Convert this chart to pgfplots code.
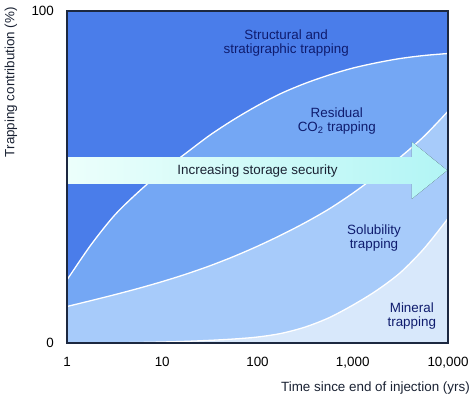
\documentclass[border=0pt]{standalone}
\usepackage{pgfplots}
\pgfplotsset{compat=1.18}
\usepackage{pgfplotstable}
\usepackage{fontspec}
\setmainfont{Liberation Sans}
\definecolor{cStruct}{HTML}{4A7DEA}
\definecolor{cResid}{HTML}{74A7F4}
\definecolor{cSolub}{HTML}{A7CBFA}
\definecolor{cMiner}{HTML}{D8E8FB}
\definecolor{cAxis}{HTML}{1C2840}
\definecolor{cNavy}{HTML}{0F1C6E}
\definecolor{cArrowL}{HTML}{ECFFFB}
\definecolor{cArrowR}{HTML}{B2F5F5}
\definecolor{cArrowText}{HTML}{1A2233}

% boundary structural / residual
\pgfplotstableread{
x y
1 19
1.778 29.5
3.162 38.5
5.623 45.5
10 51.7
17.78 57.2
31.62 62.6
56.23 67.3
100 71.5
177.8 75.2
316.2 78.2
562.3 80.7
1000 82.8
1778 84.4
3162 85.7
5623 86.6
10000 87.2
}\curveA
% boundary residual / solubility
\pgfplotstableread{
x y
1 11
1.778 12.75
3.162 14.55
5.623 16.45
10 18.5
17.78 20.75
31.62 23.25
56.23 26.05
100 29.15
177.8 32.55
316.2 36.25
562.3 40.35
1000 45.1
1778 50.4
3162 56
5623 62.3
10000 69.8
}\curveB
% boundary solubility / mineral
\pgfplotstableread{
x y
1 0
1.778 0
3.162 0.05
5.623 0.15
10 0.3
17.78 0.5
31.62 0.8
56.23 1.2
100 1.8
177.8 2.9
316.2 4.8
562.3 7.6
1000 11.4
1778 15.8
3162 21.2
5623 28.5
10000 37.5
}\curveC

\begin{document}
\begin{tikzpicture}
\useasboundingbox (-67pt,-56pt) rectangle (407pt,343pt);
\begin{axis}[
  scale only axis, width=381pt, height=332pt,
  xmode=log, xmin=1, xmax=10000, ymin=0, ymax=100,
  xtick={1,10,100,1000,10000},
  xticklabels={1,10,100,{1,000},{10,000}},
  ytick={0,100}, yticklabels={0,100},
  major tick length=0pt, minor tick length=0pt,
  minor xtick={}, minor ytick={},
  tick style={draw=none},
  axis line style={draw=cAxis, line width=1.2pt},
  axis background/.style={fill=cStruct},
  axis on top,
  tick label style={font=\fontsize{13.4}{15}\selectfont, text=black},
  xticklabel style={yshift=-11pt},
  yticklabel style={xshift=-9.6pt},
  /pgf/number format/assume math mode=true,
]
\addplot[smooth, draw=none, fill=cResid] table[x=x,y=y] {\curveA} \closedcycle;
\addplot[smooth, draw=none, fill=cSolub] table[x=x,y=y] {\curveB} \closedcycle;
\addplot[smooth, draw=none, fill=cMiner] table[x=x,y=y] {\curveC} \closedcycle;
\addplot[smooth, white, line width=1.3pt] table[x=x,y=y] {\curveA};
\addplot[smooth, white, line width=1.3pt] table[x=x,y=y] {\curveB};
\addplot[smooth, white, line width=1.3pt] table[x=x,y=y] {\curveC};

\fill[left color=cArrowL, right color=cArrowR]
  (axis cs:1,56) -- (axis cs:4170,56) -- (axis cs:4170,60.6) -- (axis cs:9800,52)
  -- (axis cs:4170,43.4) -- (axis cs:4170,47.9) -- (axis cs:1,47.9) -- cycle;

\node[font=\fontsize{13.4}{14}\selectfont, text=cArrowText] at (axis cs:100,51.8) {Increasing storage security};
\node[font=\fontsize{13.4}{14}\selectfont, text=cNavy, align=center] at (axis cs:200,90.5) {Structural and\\stratigraphic trapping};
\node[font=\fontsize{13.4}{14}\selectfont, text=cNavy, align=center] at (axis cs:680,67) {Residual\\CO\textsubscript{2} trapping};
\node[font=\fontsize{13.4}{14}\selectfont, text=cNavy, align=center] at (axis cs:1670,31.5) {Solubility\\trapping};
\node[font=\fontsize{13.4}{14}\selectfont, text=cNavy, align=center] at (axis cs:4170,8.2) {Mineral\\trapping};
\end{axis}
\node[rotate=90, anchor=east, inner sep=0pt, font=\fontsize{13.4}{15}\selectfont, text=cArrowText] at (-56pt,336pt) {Trapping contribution (\%)};
\node[anchor=east, inner sep=0pt, font=\fontsize{13.4}{15}\selectfont, text=cArrowText] at (403pt,-45pt) {Time since end of injection (yrs)};
\end{tikzpicture}
\end{document}
